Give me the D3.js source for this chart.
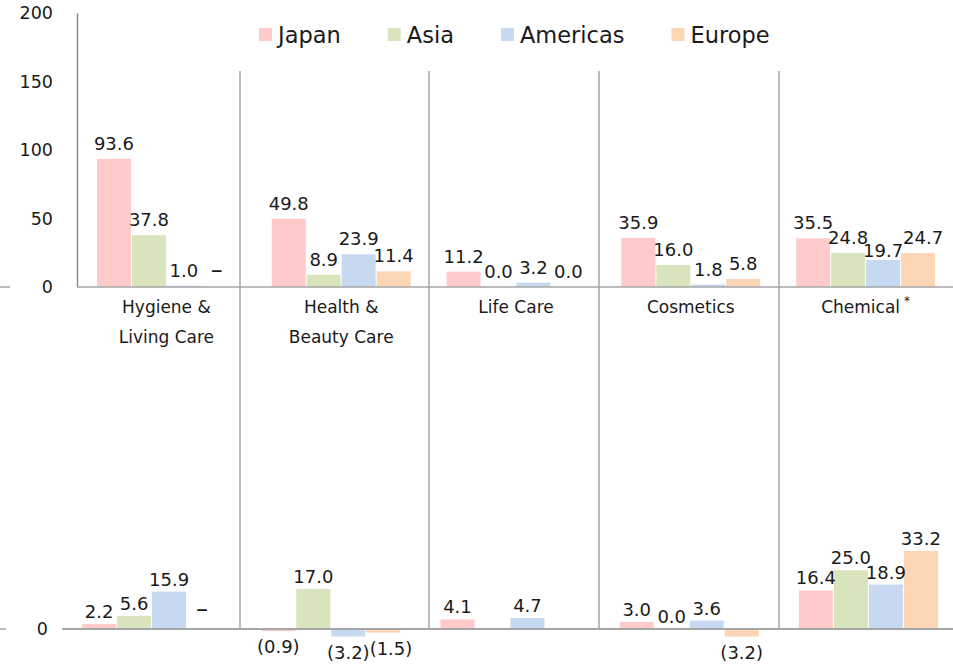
<!DOCTYPE html>
<meta charset="utf-8">
<style>
body { margin: 0; background: #fff; }
text { font-family: "DejaVu Sans", Verdana, sans-serif; fill: #1a1a1a; }
</style>
<svg width="953" height="672"></svg>
<script src="https://d3js.org/d3.v7.min.js"></script>
<script>

var categories = ["Hygiene & Living Care", "Health & Beauty Care", "Life Care", "Cosmetics", "Chemical"];
var categoryLines = [["Hygiene &", "Living Care"], ["Health &", "Beauty Care"], ["Life Care"], ["Cosmetics"], ["Chemical"]];
var regions = ["Japan", "Asia", "Americas", "Europe"];
var regionColours = ["#ffcaca", "#d8e4bc", "#c6d9f1", "#fcd5b4"];

// upper panel, axis 0-200
var upperJapan    = [93.6, 49.8, 11.2, 35.9, 35.5];
var upperAsia     = [37.8,  8.9,  0.0, 16.0, 24.8];
var upperAmericas = [ 1.0, 23.9,  3.2,  1.8, 19.7];
var upperEurope   = [null, 11.4,  0.0,  5.8, 24.7];
var upperTicks = [0, 50, 100, 150, 200];

// lower panel (no label where null, except the dash cells)
var lowerJapan    = [ 2.2, -0.9,  4.1,  3.0, 16.4];
var lowerAsia     = [ 5.6, 17.0, null,  0.0, 25.0];
var lowerAmericas = [15.9, -3.2,  4.7,  3.6, 18.9];
var lowerEurope   = [null, -1.5, null, -3.2, 33.2];
var lowerTicks = [0];

// segment not applicable -> shown as a dash
var dashCells = [["Hygiene & Living Care", "Europe"]];

var svg = d3.select("svg");
var f1 = d3.format(".1f");
function fmt(v) { return v < 0 ? "(" + f1(-v) + ")" : f1(v); }
function isDash(c, r) { return dashCells.some(function(d) { return d[0] == c && d[1] == r; }); }

// divider lines between segments
var dividers = [240, 429, 599, 779];
svg.append("g").selectAll("line").data(dividers).join("line")
   .attr("x1", d => d).attr("x2", d => d)
   .attr("y1", 71).attr("y2", 628)
   .style("stroke", "#a6a6a6").style("stroke-width", 1.5);

function drawPanel(cfg) {
  var x0 = d3.scaleBand().domain(categories).range(cfg.xRange);
  var x1 = d3.scaleBand().domain(regions).range([0, x0.bandwidth()]).paddingOuter(cfg.outer);
  var y = d3.scaleLinear().domain(cfg.domain).range(cfg.yRange);

  var rows = [];
  categories.forEach(function(c, i) {
    regions.forEach(function(r, j) {
      rows.push({cat: c, region: r, j: j, value: cfg.series[j][i]});
    });
  });

  var g = svg.append("g");
  g.selectAll("rect").data(rows.filter(d => d.value != null)).join("rect")
    .attr("x", d => x0(d.cat) + x1(d.region) + 0.5)
    .attr("width", x1.bandwidth() - 1)
    .attr("y", d => y(Math.max(0, d.value)))
    .attr("height", d => Math.abs(y(d.value) - y(0)))
    .attr("fill", d => regionColours[d.j]);

  // value labels, nudged apart when they collide
  var placed = [];
  rows.forEach(function(d) {
    var cx = x0(d.cat) + x1(d.region) + x1.bandwidth() / 2;
    if (d.value == null) {
      if (isDash(d.cat, d.region)) {
        g.append("text").attr("text-anchor", "middle").attr("x", cx - 2)
         .attr("y", y(0) - cfg.dashAbove).style("font-size", "24px").text("–");
      }
      return;
    }
    var base = d.value < 0 ? y(d.value) + cfg.below : y(d.value) - cfg.above;
    var t = g.append("text").attr("text-anchor", "middle").style("font-size", "18px").text(fmt(d.value));
    var w = t.node().getComputedTextLength();
    var box = {x0: cx - w / 2, x1: cx + w / 2, y0: base - 13, y1: base};
    placed.forEach(function(p) {
      var ox = p.x1 - box.x0, oy = Math.min(p.y1, box.y1) - Math.max(p.y0, box.y0);
      if (ox > 0 && box.x1 > p.x0 && oy > 0) {
        if (d.value > 0 && box.y1 + (p.y1 - box.y0) <= y(d.value) - 2) {
          var dy = p.y1 - box.y0;
          box.y0 += dy; box.y1 += dy;
        } else {
          box.x0 += ox; box.x1 += ox;
        }
      }
    });
    placed.push(box);
    t.attr("x", (box.x0 + box.x1) / 2).attr("y", box.y1);
  });

  // axis
  var ax = svg.append("g")
    .attr("transform", "translate(" + cfg.axisX + ",0)")
    .call(d3.axisLeft(y).tickValues(cfg.ticks).tickSize(0).tickSizeOuter(0).tickPadding(cfg.pad));
  ax.selectAll("text").style("font-size", "17.5px").style("font-family", "DejaVu Sans").attr("fill", "#1a1a1a");
  ax.select(".domain").style("stroke", cfg.showDomain ? "#8c8c8c" : "none").style("stroke-width", 1.5);

  // base line and small stub at the left edge
  svg.append("line").attr("x1", cfg.baseFrom).attr("x2", 953)
     .attr("y1", y(0)).attr("y2", y(0))
     .style("stroke", "#a6a6a6").style("stroke-width", cfg.baseWidth);
  svg.append("line").attr("x1", 0).attr("x2", cfg.stub)
     .attr("y1", y(0)).attr("y2", y(0))
     .style("stroke", "#a6a6a6").style("stroke-width", 1.5);

  return x0;
}

var xTop = drawPanel({
  series: [upperJapan, upperAsia, upperAmericas, upperEurope],
  xRange: [79, 953], outer: 0.5,
  domain: [0, 200], yRange: [287, 13],
  ticks: upperTicks, axisX: 77, pad: 24, showDomain: true,
  above: 9, below: 22, dashAbove: 9, baseFrom: 77, baseWidth: 1.5, stub: 10
});

drawPanel({
  series: [lowerJapan, lowerAsia, lowerAmericas, lowerEurope],
  xRange: [62, 958], outer: 0.56,
  domain: [0, 40], yRange: [629, 535],
  ticks: lowerTicks, axisX: 62, pad: 14, showDomain: false,
  above: 6, below: 22, dashAbove: 12, baseFrom: 62, baseWidth: 2, stub: 6
});

// category labels
var cat = svg.append("g").selectAll("text").data(categories).join("text")
   .attr("text-anchor", "middle")
   .attr("x", d => xTop(d) + xTop.bandwidth() / 2)
   .attr("y", 313)
   .style("font-size", "17px");
cat.each(function(d, i) {
  var t = d3.select(this);
  categoryLines[i].forEach(function(line, k) {
    t.append("tspan").attr("x", xTop(d) + xTop.bandwidth() / 2).attr("dy", k ? 30 : 0).text(line);
  });
  if (d == "Chemical") {
    t.append("tspan").attr("dx", 4).attr("dy", -8).style("font-size", "12px").text("*");
  }
});

// legend
var lx = 259;
regions.forEach(function(r, j) {
  svg.append("rect").attr("x", lx).attr("y", 28).attr("width", 13).attr("height", 13)
     .attr("fill", regionColours[j]);
  var t = svg.append("text").attr("x", lx + 19).attr("y", 43)
     .style("font-size", "22.5px").text(r);
  lx += 19 + t.node().getComputedTextLength() + 47;
});

</script>
